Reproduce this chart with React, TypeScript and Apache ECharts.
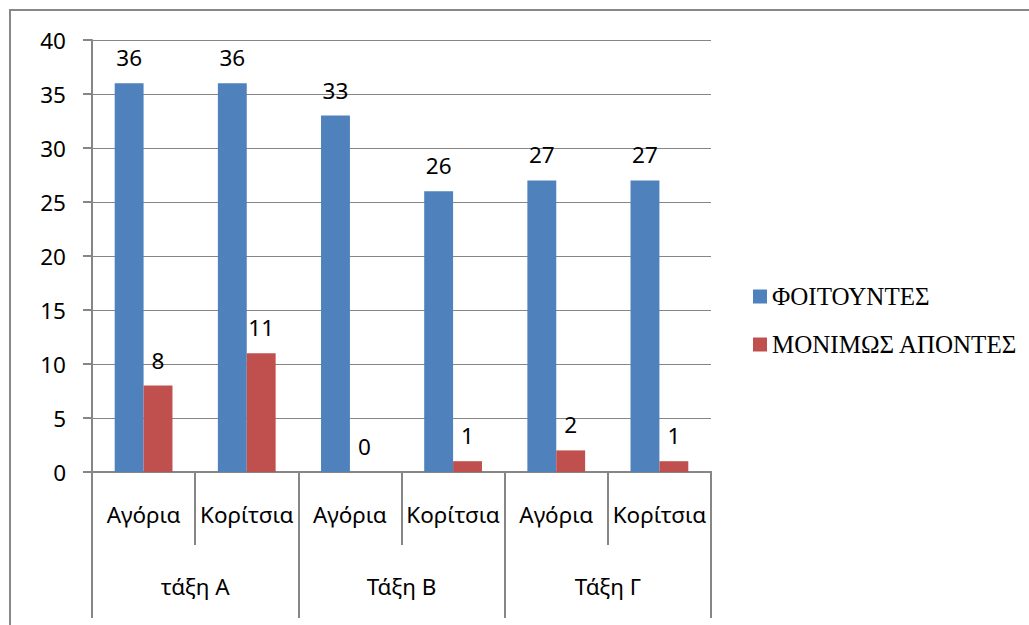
import React, { useEffect, useRef } from "react";
import * as echarts from "echarts";

const categories = ["Αγόρια", "Κορίτσια", "Αγόρια", "Κορίτσια", "Αγόρια", "Κορίτσια"];
const groups = ["τάξη Α", "Τάξη Β", "Τάξη Γ"];
const students = [36, 36, 33, 26, 27, 27];
const absent = [8, 11, 0, 1, 2, 1];
const seriesNames = ["ΦΟΙΤΟΥΝΤΕΣ", "ΜΟΝΙΜΩΣ ΑΠΟΝΤΕΣ"];

const GREY = "#868686";
const SANS = "'Noto Sans', 'Open Sans', sans-serif";
const SERIF = "'Liberation Serif', 'DejaVu Serif', serif";
const FS = 22.5;

export default function App() {
  const ref = useRef<HTMLDivElement>(null);
  useEffect(() => {
    if (!ref.current) return;
    const chart = echarts.init(ref.current, undefined, { renderer: "svg" });
    const label = {
      show: true,
      position: "top",
      distance: 14,
      fontSize: FS,
      fontFamily: SANS,
      color: "#000",
    };
    chart.setOption({
      animation: false,
      backgroundColor: "#fff",
      graphic: [
        {
          type: "rect",
          shape: { x: 10, y: 10, width: 1100, height: 700 },
          style: { fill: "none", stroke: "#888", lineWidth: 2 },
          silent: true,
        },
      ],
      legend: {
        orient: "vertical",
        left: 748,
        top: 279,
        itemWidth: 14,
        itemHeight: 14,
        itemGap: 23,
        icon: "rect",
        textStyle: { fontFamily: SERIF, fontSize: 25, color: "#000" },
        data: seriesNames,
      },
      grid: { left: 92, right: 318, top: 40, bottom: 153, containLabel: false },
      xAxis: [
        {
          type: "category",
          data: categories,
          position: "bottom",
          axisLine: { show: true, lineStyle: { color: GREY, width: 2 } },
          axisTick: { show: true, interval: 0, length: 73, lineStyle: { color: GREY, width: 2 } },
          axisLabel: { interval: 0, margin: 31, fontSize: FS, fontFamily: SANS, color: "#000" },
          splitLine: { show: false },
        },
        {
          type: "category",
          data: groups,
          position: "bottom",
          axisLine: { show: true, lineStyle: { color: GREY, width: 2 } },
          axisTick: { show: true, interval: 0, length: 146, lineStyle: { color: GREY, width: 2 } },
          axisLabel: { interval: 0, margin: 103, fontSize: FS, fontFamily: SANS, color: "#000" },
          splitLine: { show: false },
        },
      ],
      yAxis: {
        type: "value",
        min: 0,
        max: 40,
        interval: 5,
        axisLine: { show: true, lineStyle: { color: GREY, width: 2 } },
        axisTick: { show: true, length: 9, lineStyle: { color: GREY, width: 2 } },
        axisLabel: { margin: 26, fontSize: FS, fontFamily: SANS, color: "#000" },
        splitLine: { show: true, lineStyle: { color: GREY, width: 1 } },
      },
      series: [
        {
          name: seriesNames[0],
          type: "bar",
          xAxisIndex: 0,
          data: students,
          barGap: "0%",
          barCategoryGap: "44%",
          itemStyle: { color: "#4F81BD" },
          label,
        },
        {
          name: seriesNames[1],
          type: "bar",
          xAxisIndex: 0,
          data: absent,
          itemStyle: { color: "#C0504D" },
          label,
        },
      ],
    });
    return () => chart.dispose();
  }, []);
  return (
    <div
      ref={ref}
      style={{ position: "fixed", left: 0, top: 0, width: 1029, height: 625 }}
    />
  );
}
